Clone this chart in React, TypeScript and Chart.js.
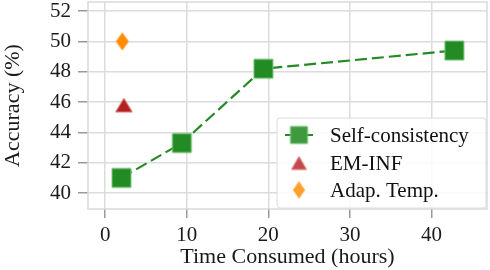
import React, { useEffect, useRef } from "react";
import { Chart, registerables } from "chart.js";
Chart.register(...registerables);

const seriesNames = ["Self-consistency", "EM-INF", "Adap. Temp."];
const scHours = [2.0, 9.4, 19.4, 42.8];
const scAccuracy = [41.0, 43.3, 48.2, 49.4];
const emHours = [2.3];
const emAccuracy = [45.8];
const atHours = [2.1];
const atAccuracy = [50.0];
const yTicks = [40, 42, 44, 46, 48, 50, 52];
const xTicks = [0, 10, 20, 30, 40];
const xTitle = "Time Consumed (hours)";
const yTitle = "Accuracy (%)";

const FONT = "Liberation Serif";
const GREEN = "#238b23";
const RED = "#b22222";
const ORANGE = "#ff8c00";

function makeMarker(shape: string, w: number, h: number, fill: string, stroke: string, lw: number) {
  const c = document.createElement("canvas");
  const pad = 2;
  c.width = w + pad * 2;
  c.height = h + pad * 2;
  const ctx = c.getContext("2d")!;
  const cx = c.width / 2, cy = c.height / 2;
  ctx.beginPath();
  if (shape === "triangle") {
    ctx.moveTo(cx, pad);
    ctx.lineTo(pad + w, pad + h);
    ctx.lineTo(pad, pad + h);
  } else if (shape === "diamond") {
    ctx.moveTo(cx, pad);
    ctx.lineTo(pad + w, cy);
    ctx.lineTo(cx, pad + h);
    ctx.lineTo(pad, cy);
  } else {
    ctx.rect(pad, pad, w, h);
  }
  ctx.closePath();
  ctx.fillStyle = fill;
  ctx.fill();
  ctx.strokeStyle = stroke;
  ctx.lineWidth = lw;
  ctx.stroke();
  return c;
}

export default function App() {
  const ref = useRef<HTMLCanvasElement>(null);
  useEffect(() => {
    Chart.defaults.font.family = FONT;
    const sq = makeMarker("rect", 19, 19, GREEN, "#7cc67c", 1);
    const tri = makeMarker("triangle", 17, 14, RED, "#e58a8a", 1);
    const dia = makeMarker("diamond", 13, 18, ORANGE, "#ffc47a", 1);
    const sqL = makeMarker("rect", 17, 17, "#3f9a3f", "#6fbf6f", 1);
    const triL = makeMarker("triangle", 15, 13, "#c24a4a", "#e07a7a", 1);
    const diaL = makeMarker("diamond", 12, 17, "#ff9f30", "#ffc47a", 1);

    const legendPlugin = {
      id: "customLegend",
      afterDraw(chart: any) {
        const { ctx, chartArea } = chart;
        const w = 209, h = 90;
        const left = chartArea.right - 1 - w;
        const top = chartArea.bottom - 1 - h;
        ctx.save();
        ctx.beginPath();
        if ((ctx as any).roundRect) (ctx as any).roundRect(left, top, w, h, 3);
        else ctx.rect(left, top, w, h);
        ctx.fillStyle = "rgba(255,255,255,0.85)";
        ctx.fill();
        ctx.strokeStyle = "#dddddd";
        ctx.lineWidth = 1;
        ctx.stroke();
        const rows = [17, 45, 72];
        const markers = [sqL, triL, diaL];
        rows.forEach((ry, i) => {
          const y = top + ry;
          const mx = left + 22;
          if (i === 0) {
            ctx.beginPath();
            ctx.moveTo(left + 8, y);
            ctx.lineTo(left + 36, y);
            ctx.strokeStyle = GREEN;
            ctx.lineWidth = 2;
            ctx.stroke();
          }
          const m = markers[i];
          ctx.drawImage(m, mx - m.width / 2, y - m.height / 2);
          ctx.fillStyle = "#111";
          ctx.font = `21px "${FONT}"`;
          ctx.textBaseline = "middle";
          ctx.textAlign = "left";
          ctx.fillText(seriesNames[i], left + 53, y + 1);
        });
        ctx.restore();
      },
    };

    const framePlugin = {
      id: "frame",
      beforeDatasetsDraw(chart: any) {
        const { ctx, chartArea } = chart;
        ctx.save();
        ctx.strokeStyle = "#d9d9d9";
        ctx.lineWidth = 1.5;
        ctx.strokeRect(chartArea.left, chartArea.top, chartArea.right - chartArea.left, chartArea.bottom - chartArea.top);
        ctx.restore();
      },
    };

    const chart = new Chart(ref.current!, {
      type: "line",
      data: {
        datasets: [
          {
            label: seriesNames[0],
            data: scHours.map((x, i) => ({ x, y: scAccuracy[i] })),
            borderColor: GREEN,
            borderWidth: 2.2,
            borderDash: [12, 5],
            pointStyle: sq as any,
            showLine: true,
            fill: false,
          },
          {
            label: seriesNames[1],
            data: emHours.map((x, i) => ({ x, y: emAccuracy[i] })),
            pointStyle: tri as any,
            showLine: false,
          },
          {
            label: seriesNames[2],
            data: atHours.map((x, i) => ({ x, y: atAccuracy[i] })),
            pointStyle: dia as any,
            showLine: false,
          },
        ],
      },
      options: {
        animation: false,
        responsive: false,
        layout: { autoPadding: false, padding: { top: 2, right: 3, left: 0, bottom: 0 } },
        plugins: { legend: { display: false }, tooltip: { enabled: false } },
        scales: {
          x: {
            type: "linear",
            min: -2.1,
            max: 46.8,
            afterBuildTicks: (s: any) => {
              s.ticks = xTicks.map((v) => ({ value: v }));
            },
            afterFit: (s: any) => {
              s.height = 61;
              s.paddingLeft = 0;
              s.paddingRight = 0;
            },
            grid: { color: "#dcdcdc", lineWidth: 1.5, tickLength: 9, tickColor: "#999999" },
            border: { display: false },
            ticks: { color: "#1a1a1a", font: { family: FONT, size: 21 }, padding: 5, maxRotation: 0 },
            title: { display: true, text: xTitle, color: "#1a1a1a", font: { family: FONT, size: 22 }, padding: { top: 0, bottom: 0 } },
          },
          y: {
            type: "linear",
            min: 38.95,
            max: 52.6,
            afterBuildTicks: (s: any) => {
              s.ticks = yTicks.map((v) => ({ value: v }));
            },
            afterFit: (s: any) => {
              s.width = 88;
              s.paddingTop = 0;
              s.paddingBottom = 0;
            },
            grid: { color: "#dcdcdc", lineWidth: 1.5, tickLength: 10, tickColor: "#999999" },
            border: { display: false },
            ticks: { color: "#1a1a1a", font: { family: FONT, size: 21 }, padding: 7 },
            title: { display: true, text: yTitle, color: "#1a1a1a", font: { family: FONT, size: 22 }, padding: { top: 0, bottom: 0 } },
          },
        },
      },
      plugins: [framePlugin, legendPlugin],
    });
    return () => chart.destroy();
  }, []);
  return (
    <canvas
      ref={ref}
      width={490}
      height={270}
      style={{ position: "absolute", left: 0, top: 0, display: "block" }}
    />
  );
}
